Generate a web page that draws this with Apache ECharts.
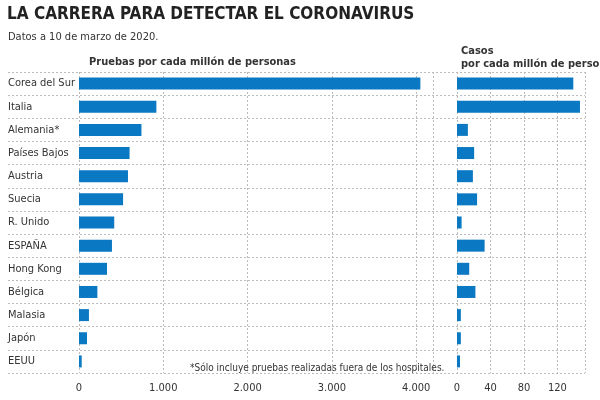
<!DOCTYPE html>
<html><head><meta charset="utf-8">
<script src="https://cdn.jsdelivr.net/npm/echarts@6/dist/echarts.min.js"></script>
<style>html,body{margin:0;background:#fff}#c{width:600px;height:400px}</style>
</head><body><div id="c"></div>
<script>
var paises = ['Corea del Sur', 'Italia', 'Alemania*', 'Países Bajos', 'Austria', 'Suecia', 'R. Unido', 'ESPAÑA', 'Hong Kong', 'Bélgica', 'Malasia', 'Japón', 'EEUU'];
var pruebas = [4050, 918, 741, 600, 581, 523, 418, 391, 332, 218, 118, 95, 32];
var casos = [139, 147, 13, 20.5, 19, 24, 5.5, 33, 14.6, 22, 4.6, 4.6, 3.6];

var font = '"DejaVu Sans Condensed", "Liberation Sans Narrow", "Liberation Sans", sans-serif';
var azul = '#0a78c2';
var chart = echarts.init(document.getElementById('c'));
var gridTop = 72, gridBottom = 27;
var dotted = { show: true, lineStyle: { color: '#bbb', type: [2, 2], width: 1 } };

chart.setOption({
    animation: false,
    textStyle: { fontFamily: font },
    title: [
        { text: 'LA CARRERA PARA DETECTAR EL CORONAVIRUS', left: 2, top: 1,
          textStyle: { fontFamily: font, fontSize: 17, fontWeight: 'bold', color: '#222' } },
        { text: 'Datos a 10 de marzo de 2020.', left: 3, top: 27,
          textStyle: { fontFamily: font, fontSize: 11, fontWeight: 'normal', color: '#333' } },
        { text: 'Pruebas por cada millón de personas', left: 84, top: 52,
          textStyle: { fontFamily: font, fontSize: 11, fontWeight: 'bold', color: '#333' } },
        { text: 'Casos\npor cada millón de personas', left: 456, top: 40,
          textStyle: { fontFamily: font, fontSize: 11, fontWeight: 'bold', color: '#333', lineHeight: 13 } },
        { text: '*Sólo incluye pruebas realizadas fuera de los hospitales.', left: 185, top: 358,
          textStyle: { fontFamily: font, fontSize: 10, fontWeight: 'normal', color: '#333' } }
    ],
    grid: [
        { left: 79, right: 167, top: gridTop, bottom: gridBottom },
        { left: 457, right: 15, top: gridTop, bottom: gridBottom },
        { left: 8, right: 15, top: gridTop, bottom: gridBottom }
    ],
    xAxis: [
        { gridIndex: 0, type: 'value', min: 0, max: 4200, interval: 1000,
          axisLine: { show: false }, axisTick: { show: false }, splitLine: dotted,
          axisLabel: { showMaxLabel: false, color: '#333', fontSize: 11, margin: 10,
            formatter: function (v) { return v === 0 ? '0' : (v / 1000) + '.000'; } } },
        { gridIndex: 1, type: 'value', min: 0, max: 153, interval: 40,
          axisLine: { show: false }, axisTick: { show: false }, splitLine: dotted,
          axisLabel: { showMaxLabel: false, color: '#333', fontSize: 11, margin: 10 } },
        { gridIndex: 2, type: 'value', show: false }
    ],
    yAxis: [
        { gridIndex: 0, type: 'category', data: paises, inverse: true,
          axisLine: { show: false }, axisTick: { show: false },
          axisLabel: { color: '#333', fontSize: 11, align: 'left', margin: 71 } },
        { gridIndex: 1, type: 'category', data: paises, inverse: true, show: false },
        { gridIndex: 2, type: 'category', data: paises, inverse: true,
          axisLine: { show: false }, axisTick: { show: false }, axisLabel: { show: false },
          splitLine: { show: true, interval: 0, lineStyle: { color: '#bbb', type: [2, 2] } } }
    ],
    series: [
        { type: 'bar', xAxisIndex: 0, yAxisIndex: 0, data: pruebas, barWidth: 12,
          itemStyle: { color: azul } },
        { type: 'bar', xAxisIndex: 1, yAxisIndex: 1, data: casos, barWidth: 12,
          itemStyle: { color: azul } }
    ]
});
</script>
</body></html>
